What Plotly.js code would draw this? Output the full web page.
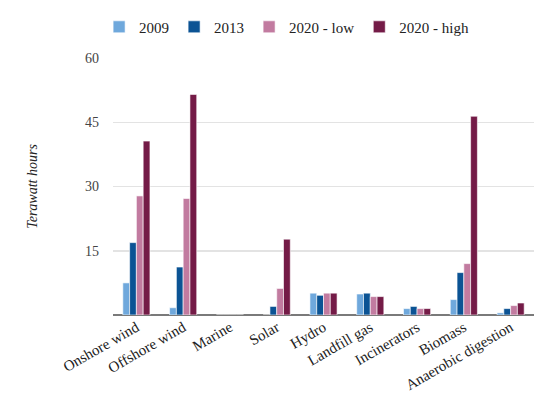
<!DOCTYPE html>
<html>
<head>
<meta charset="utf-8">
<script src="https://cdn.plot.ly/plotly-3.0.1.min.js"></script>
<style>html,body{margin:0;padding:0;background:#fff;}#chart{width:550px;height:395px;}</style>
</head>
<body>
<div id="chart"></div>
<script>
const categories = ["Onshore wind", "Offshore wind", "Marine", "Solar", "Hydro", "Landfill gas", "Incinerators", "Biomass", "Anaerobic digestion"];
const seriesNames = ["2009", "2013", "2020 - low", "2020 - high"];
const v2009 = [7.5, 1.7, 0, 0, 5.1, 4.9, 1.5, 3.6, 0.5];
const v2013 = [16.9, 11.2, 0, 2.0, 4.6, 5.1, 2.0, 9.9, 1.5];
const v2020low = [27.8, 27.2, 0, 6.2, 5.1, 4.3, 1.5, 12.0, 2.2];
const v2020high = [40.6, 51.5, 0, 17.7, 5.1, 4.3, 1.5, 46.4, 2.8];
const colors = ["#6fa8dc", "#0b5394", "#c27ba0", "#741b47"];
const yTicks = [15, 30, 45, 60];

const allValues = [v2009, v2013, v2020low, v2020high];
const font = "Liberation Serif, DejaVu Serif, serif";
const data = allValues.map((vals, i) => ({
  type: "bar",
  name: seriesNames[i],
  x: categories,
  y: vals,
  marker: {color: colors[i], line: {color: "#ffffff", width: 0.6}},
  hoverinfo: "skip"
}));

const layout = {
  width: 550, height: 395,
  margin: {l: 113, r: 16, t: 57, b: 80},
  paper_bgcolor: "#fff", plot_bgcolor: "#fff",
  font: {family: font, size: 13, color: "#333"},
  barmode: "group",
  bargap: 0.42,
  bargroupgap: 0.0,
  showlegend: true,
  legend: {orientation: "h", x: -0.033, xanchor: "left", y: 1.116, yanchor: "middle",
           font: {family: font, size: 15, color: "#222"}, traceorder: "normal"},
  xaxis: {
    tickangle: -30, showgrid: false, showline: false, ticks: "",
    tickfont: {family: font, size: 15, color: "#222"}, fixedrange: true
  },
  yaxis: {
    range: [0, 60], tickvals: yTicks, ticktext: yTicks.map(String),
    showgrid: true, gridcolor: "#e3e3e3", gridwidth: 1.5,
    zeroline: true, zerolinecolor: "#7a7a7a", zerolinewidth: 2,
    ticks: "", ticklabelstandoff: 13,
    tickfont: {family: font, size: 14, color: "#444"},
    title: {text: "<i>Terawatt hours</i>", font: {family: font, size: 14, color: "#222"}, standoff: 44},
    fixedrange: true
  }
};
Plotly.newPlot("chart", data, layout, {displayModeBar: false, staticPlot: true});
</script>
</body>
</html>
